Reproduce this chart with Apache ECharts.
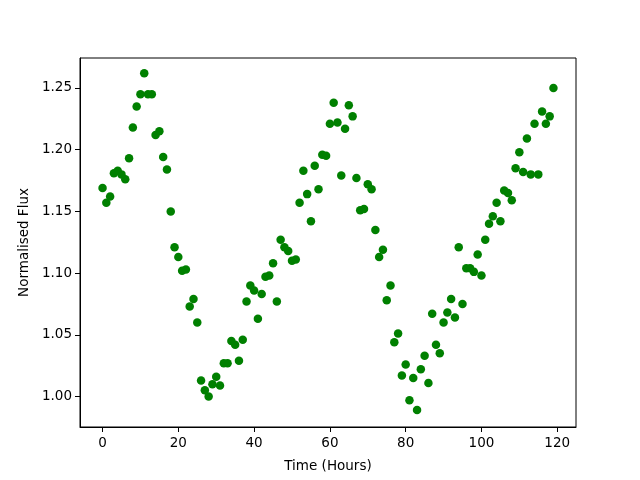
<!DOCTYPE html>
<html>
<head>
<meta charset="utf-8">
<script src="https://cdn.jsdelivr.net/npm/echarts@6/dist/echarts.min.js"></script>
<style>html,body{margin:0;padding:0;background:#fff}#c{width:640px;height:480px}</style>
</head>
<body>
<div id="c"></div>
<script>
const hours = Array.from({length: 120}, (_, i) => i);
const flux = [
1.169,1.157,1.162,1.181,1.183,1.180,1.176,1.193,1.218,1.235,
1.245,1.262,1.245,1.245,1.212,1.215,1.194,1.184,1.150,1.121,
1.113,1.102,1.103,1.073,1.079,1.060,1.013,1.005,1.000,1.010,
1.016,1.009,1.027,1.027,1.045,1.042,1.029,1.046,1.077,1.090,
1.086,1.063,1.083,1.097,1.098,1.108,1.077,1.127,1.121,1.118,
1.110,1.111,1.157,1.183,1.164,1.142,1.187,1.168,1.196,1.195,
1.221,1.238,1.222,1.179,1.217,1.236,1.227,1.177,1.151,1.152,
1.172,1.168,1.135,1.113,1.119,1.078,1.090,1.044,1.051,1.017,
1.026,0.997,1.015,0.989,1.022,1.033,1.011,1.067,1.042,1.035,
1.060,1.068,1.079,1.064,1.121,1.075,1.104,1.104,1.101,1.115,
1.098,1.127,1.140,1.146,1.157,1.142,1.167,1.165,1.159,1.185,
1.198,1.182,1.209,1.180,1.221,1.180,1.231,1.221,1.227,1.250
];
const xTicks = [0, 20, 40, 60, 80, 100, 120];
const yTicks = [1.00, 1.05, 1.10, 1.15, 1.20, 1.25];

const font = 'DejaVu Sans';
const chart = echarts.init(document.getElementById('c'), null, {renderer: 'canvas'});
chart.setOption({
  animation: false,
  backgroundColor: '#fff',
  grid: {left: 80, right: 64, top: 58, bottom: 53, show: true, borderColor: '#000', borderWidth: 1, backgroundColor: 'transparent'},
  xAxis: {
    type: 'value', min: -5.95, max: 124.95,
    name: 'Time (Hours)', nameLocation: 'middle', nameGap: 32,
    nameTextStyle: {fontFamily: font, fontSize: 13.5, color: '#000'},
    axisLine: {show: true, onZero: false, lineStyle: {color: '#000', width: 1}},
    axisTick: {show: true, length: 5, lineStyle: {color: '#000'}, customValues: xTicks},
    axisLabel: {fontFamily: font, fontSize: 13.5, color: '#000', margin: 9, customValues: xTicks,
      formatter: v => String(Math.round(v))},
    splitLine: {show: false}
  },
  yAxis: {
    type: 'value', min: 0.9753, max: 1.2743,
    name: 'Normalised Flux', nameLocation: 'middle', nameGap: 46, nameRotate: 90,
    nameTextStyle: {fontFamily: font, fontSize: 13.5, color: '#000'},
    axisLine: {show: true, onZero: false, lineStyle: {color: '#000', width: 1}},
    axisTick: {show: true, length: 5, lineStyle: {color: '#000'}, customValues: yTicks},
    axisLabel: {fontFamily: font, fontSize: 13.5, color: '#000', margin: 8, customValues: yTicks,
      formatter: v => v.toFixed(2)},
    splitLine: {show: false}
  },
  series: [{
    type: 'scatter',
    data: hours.map((h, i) => [h, flux[i]]),
    symbolSize: 8.5,
    itemStyle: {color: '#008000', opacity: 1}
  }]
});
</script>
</body>
</html>
